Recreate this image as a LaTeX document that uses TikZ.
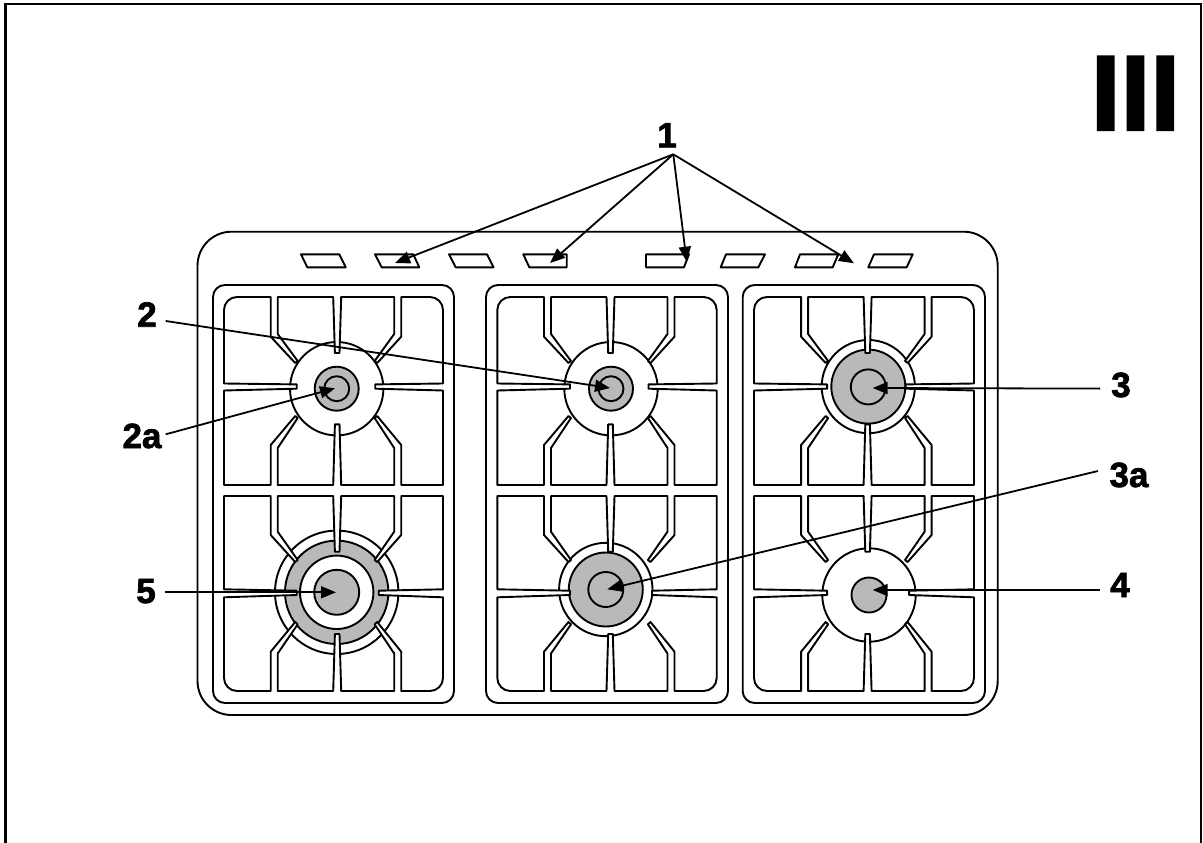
\documentclass[tikz,border=0pt]{standalone}
\usepackage{fontspec}
\setmainfont[BoldFeatures={FakeBold=2}]{Liberation Sans}
\usetikzlibrary{arrows.meta}
\definecolor{burnergrey}{HTML}{B9B9B9}
\tikzset{
  lbl/.style={anchor=base,inner sep=0pt,font=\fontsize{35}{35}\selectfont\bfseries},
  roman/.style={anchor=base,inner sep=0pt,font=\fontsize{107}{107}\selectfont\bfseries},
  ln/.style={line width=1.9pt,draw=black,line join=round},
  leader/.style={line width=1.8pt,draw=black,-{Triangle[length=15pt,width=12pt]}},
  grey/.style={ln,fill=burnergrey},
  wht/.style={ln,fill=white}
}
% row geometry
\newcommand\rowU{%
 \def\gT{297}\def\gB{485}\def\tipT{353}\def\tipB{424.3}%
 \def\tTo{363}\def\tTi{361}\def\bTo{336.7}\def\bTi{334}%
 \def\bBo{445}\def\bBi{448}\def\tBo{416}\def\tBi{418}%
 \def\hU{383.5}\def\hL{390.5}\def\thU{384.4}\def\thL{388.7}\def\tipR{38}%
 \def\rT{13}\def\rB{0}}
\newcommand\rowL{%
 \def\gT{496}\def\gB{691}\def\tipT{551.7}\def\tipB{634}%
 \def\tTo{562}\def\tTi{560}\def\bTo{535}\def\bTi{531.7}%
 \def\bBo{651.7}\def\bBi{653.5}\def\tBo{622}\def\tBi{624.3}%
 \def\hU{589.3}\def\hL{597.3}\def\thU{590.7}\def\thL{595}\def\tipR{41.5}%
 \def\rT{0}\def\rB{13}}
% #1 centre x, #2 left, #3 right
\newcommand\grate[3]{%
 \fill[white] (#1-4,\gT)--(#1-2.3,\tipT)--(#1+2.3,\tipT)--(#1+4,\gT)--cycle;
 \fill[white] (#1-4,\gB)--(#1-2.3,\tipB)--(#1+2.3,\tipB)--(#1+4,\gB)--cycle;
 \fill[white] (#1-59.5,\gT)--(#1-59.5,\bTi)--(#1-39.5,\tTi)--(#1-42,\tTo)--(#1-66.5,\bTo)--(#1-66.5,\gT)--cycle;
 \fill[white] (#1+57,\gT)--(#1+57,\bTi)--(#1+37.4,\tTi)--(#1+40,\tTo)--(#1+64,\bTo)--(#1+64,\gT)--cycle;
 \fill[white] (#1-59.5,\gB)--(#1-59.5,\bBi)--(#1-39.5,\tBi)--(#1-42,\tBo)--(#1-66.5,\bBo)--(#1-66.5,\gB)--cycle;
 \fill[white] (#1+57,\gB)--(#1+57,\bBi)--(#1+37.4,\tBi)--(#1+40,\tBo)--(#1+64,\bBo)--(#1+64,\gB)--cycle;
 \fill[white] (#2,\hU)--(#1-40.5,\thU)--(#1-40.5,\thL)--(#2,\hL)--cycle;
 \fill[white] (#3,\hU)--(#1+\tipR,\thU)--(#1+\tipR,\thL)--(#3,\hL)--cycle;
 \draw[ln] (#1-39.5,\tTi)--(#1-59.5,\bTi)--(#1-59.5,\gT)--(#1-4,\gT)--(#1-2.3,\tipT)--(#1+2.3,\tipT)--(#1+4,\gT)
  --(#1+57,\gT)--(#1+57,\bTi)--(#1+37.4,\tTi)--(#1+40,\tTo)--(#1+64,\bTo)--(#1+64,\gT)
  --(#3-\rT,\gT) .. controls (#3-0.45*\rT,\gT) and (#3,\gT+0.45*\rT) .. (#3,\gT+\rT)
  --(#3,\hU)--(#1+\tipR,\thU)--(#1+\tipR,\thL)--(#3,\hL)
  --(#3,\gB-\rB) .. controls (#3,\gB-0.45*\rB) and (#3-0.45*\rB,\gB) .. (#3-\rB,\gB)
  --(#1+64,\gB)--(#1+64,\bBo)--(#1+40,\tBo)--(#1+37.4,\tBi)--(#1+57,\bBi)--(#1+57,\gB)
  --(#1+4,\gB)--(#1+2.3,\tipB)--(#1-2.3,\tipB)--(#1-4,\gB)
  --(#1-59.5,\gB)--(#1-59.5,\bBi)--(#1-39.5,\tBi)--(#1-42,\tBo)--(#1-66.5,\bBo)--(#1-66.5,\gB)
  --(#2+\rB,\gB) .. controls (#2+0.45*\rB,\gB) and (#2,\gB-0.45*\rB) .. (#2,\gB-\rB)
  --(#2,\hL)--(#1-40.5,\thL)--(#1-40.5,\thU)--(#2,\hU)
  --(#2,\gT+\rT) .. controls (#2,\gT+0.45*\rT) and (#2+0.45*\rT,\gT) .. (#2+\rT,\gT)
  --(#1-66.5,\gT)--(#1-66.5,\bTo)--(#1-42,\tTo)--cycle;
}
\begin{document}
\begin{tikzpicture}[x=1pt,y=-1pt]
\useasboundingbox (0,0) rectangle (1203,843);
\fill[white] (0,0) rectangle (1203,843);
% frame
\draw[line width=2.4pt] (5.6,843)--(5.6,4)--(1201,4)--(1201,843);
% cooktop body and panels
\draw[ln,rounded corners=34pt] (197.5,231.7) rectangle (997.7,715);
\draw[ln,rounded corners=12pt] (213,285) rectangle (454,703);
\draw[ln,rounded corners=12pt] (486,285) rectangle (728,703);
\draw[ln,rounded corners=12pt] (742.7,285) rectangle (985,703);
% slots
\draw[ln] (301,254.3)--(339.3,254.3)--(345.7,267.3)--(307.3,267.3)--cycle;
\draw[ln] (375,254.3)--(413.3,254.3)--(419.3,267.3)--(381.7,267.3)--cycle;
\draw[ln] (449,254.3)--(487,254.3)--(493.5,267.3)--(455.7,267.3)--cycle;
\draw[ln] (523.3,254.3)--(566.7,254.3)--(566.7,267.3)--(529.3,267.3)--cycle;
\draw[ln] (646,254.3)--(689,254.3)--(684,267.3)--(646,267.3)--cycle;
\draw[ln] (726,254.3)--(765,254.3)--(758.3,267.3)--(720.7,267.3)--cycle;
\draw[ln] (800,254.3)--(838.3,254.3)--(832.7,267.3)--(795,267.3)--cycle;
\draw[ln] (874,254.3)--(912.7,254.3)--(906.7,267.3)--(868.3,267.3)--cycle;
% burners
\draw[wht] (336.7,388.7) circle (46.7);
\draw[grey] (336.7,388.7) circle (22);
\draw[ln] (336.7,388.7) circle (12.5);
\draw[wht] (611,388.7) circle (46.7);
\draw[grey] (611,388.7) circle (22);
\draw[ln] (611,388.7) circle (12.5);
\draw[wht] (868.3,386.6) circle (46.6);
\draw[grey] (868.3,386.6) circle (37);
\draw[ln] (868.3,386.9) circle (17.5);
\draw[wht] (336.7,592.3) circle (61.7);
\draw[grey] (336.7,592.3) circle (51.7);
\draw[wht] (336.7,592.3) circle (36.7);
\draw[grey] (336.7,592.3) circle (22.5);
\draw[wht] (605.8,589.5) circle (46.7);
\draw[grey] (605.8,589.5) circle (37);
\draw[ln] (605.8,589.5) circle (17.5);
\draw[wht] (869,595) circle (46.7);
\draw[grey] (869,595) circle (17.5);
% grates
\rowU
\grate{337.2}{224}{443}
\grate{610.5}{497.3}{716.7}
\grate{867.6}{754}{974}
\rowL
\grate{337.2}{224}{443}
\grate{610.5}{497.3}{716.7}
\grate{867.6}{754}{974}
% labels
\node[lbl] (n1) at (667,147.3) {1};
\node[lbl] (n2) at (147,326.7) {2};
\node[lbl] (n2a) at (142,448) {2a};
\node[lbl] (n3) at (1121,397) {3};
\node[lbl] (n3a) at (1129,487) {3a};
\node[lbl] (n4) at (1120,597) {4};
\node[lbl] (n5) at (146,603) {5};
\node[roman] (nIII) at (1135.5,130) {III};
% leaders
\coordinate (a1) at (673.3,154.3);
\coordinate (t1a) at (395,263);
\coordinate (t1b) at (550,263);
\coordinate (t1c) at (686.7,261.7);
\coordinate (t1d) at (854,263.3);
\draw[leader] (a1)--(t1a);
\draw[leader] (a1)--(t1b);
\draw[leader] (a1)--(t1c);
\draw[leader] (a1)--(t1d);
\coordinate (s2) at (165.7,321); \coordinate (t2) at (610,388);
\draw[leader] (s2)--(t2);
\coordinate (s2a) at (165.7,434.3); \coordinate (t2a) at (335,388.3);
\draw[leader] (s2a)--(t2a);
\coordinate (s3) at (1100,388.6); \coordinate (t3) at (872.7,388);
\draw[leader] (s3)--(t3);
\coordinate (s3a) at (1098,471); \coordinate (t3a) at (607.3,589.3);
\draw[leader] (s3a)--(t3a);
\coordinate (s4) at (1100,590); \coordinate (t4) at (872.7,590);
\draw[leader] (s4)--(t4);
\coordinate (s5) at (165,592.3); \coordinate (t5) at (336,592.3);
\draw[leader] (s5)--(t5);
\end{tikzpicture}
\end{document}
